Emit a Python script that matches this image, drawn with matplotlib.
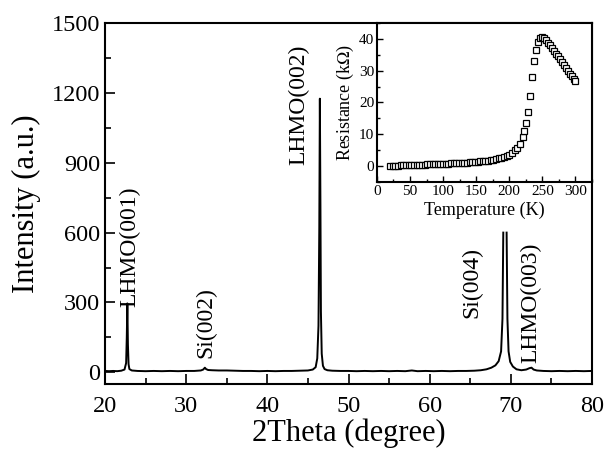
import numpy as np
import matplotlib
matplotlib.use('Agg')
import matplotlib.pyplot as plt
from matplotlib.ticker import MultipleLocator

plt.rcParams['font.family'] = ['Liberation Serif', 'DejaVu Serif']
plt.rcParams['mathtext.fontset'] = 'stix'

# --- XRD pattern ---
nan = float('nan')
two_theta = [20.0, 20.5, 21.0, 21.5, 22.0, 22.4, 22.6, 22.68, 22.75, 22.82, 22.9, 23.0, 23.3,
             24.0, 25.0, 26.0, 27.0, 28.0, 29.0, 30.0, 31.0, 31.8, 32.1, 32.3, 32.45, 32.7,
             33.2, 34.0, 35.0, 36.0, 37.0, 38.0, 39.0, 40.0, 41.0, 42.0, 43.0, 44.0, 45.0,
             45.6, 45.95, 46.15, 46.3, 46.4, 46.47, 46.54, 46.6, 46.7, 46.85, 47.05, 47.4,
             48.0, 49.0, 50.0, 51.0, 52.0, 53.0, 54.0, 55.0, 56.0, 57.0, 57.8, 58.5, 59.5,
             60.5, 61.5, 62.5, 63.5, 64.5, 65.5, 66.3, 67.0, 67.6, 68.1, 68.5, 68.8, 68.97,
             69.07, nan, 69.48, 69.58, 69.72, 69.92, 70.25, 70.7, 71.3, 71.9, 72.3, 72.55,
             72.8, 73.2, 74.0, 75.0, 76.0, 77.0, 78.0, 79.0, 80.0]
intensity = [6, 5, 6, 5, 7, 12, 40, 150, 296, 120, 35, 14, 8,
             6, 5, 6, 5, 6, 5, 6, 6, 8, 12, 20, 14, 10,
             9, 8, 8, 7, 6, 6, 5, 6, 5, 6, 6, 7, 8,
             12, 22, 60, 200, 620, 1175, 720, 260, 80, 28, 14, 9,
             7, 6, 6, 5, 6, 5, 6, 5, 6, 5, 8, 5, 6,
             5, 6, 5, 6, 6, 7, 9, 13, 20, 30, 48, 90, 230,
             600, nan, 600, 230, 90, 45, 25, 13, 9, 12, 18, 20,
             12, 8, 6, 5, 6, 5, 6, 5, 6]

# --- R(T) inset data ---
temperature = [20, 24, 28, 32, 36, 40, 44, 48, 52, 56, 60, 64, 68, 72, 76, 80, 84, 88,
               92, 96, 100, 104, 108, 112, 116, 120, 124, 128, 132, 136, 140, 144, 148,
               152, 156, 160, 164, 168, 172, 176, 180, 184, 188, 192, 196, 200, 204,
               208, 212, 216, 220, 223, 226, 229, 232, 235, 238, 241, 244, 247, 250,
               253, 256, 259, 262, 265, 268, 271, 274, 277, 280, 283, 286, 289, 292,
               295, 298, 300]
resistance = [0.1, 0.1, 0.15, 0.15, 0.2, 0.2, 0.25, 0.25, 0.3, 0.3, 0.35, 0.4, 0.4, 0.45,
              0.5, 0.5, 0.55, 0.6, 0.65, 0.7, 0.7, 0.75, 0.8, 0.85, 0.9, 0.9, 0.95, 1.0,
              1.05, 1.1, 1.15, 1.2, 1.3, 1.35, 1.45, 1.5, 1.6, 1.7, 1.85, 2.0, 2.2, 2.4,
              2.6, 2.9, 3.2, 3.6, 4.2, 4.9, 5.8, 7.0, 9.0, 11.0, 13.5, 17.0, 22.0, 28.0,
              33.0, 36.5, 39.0, 40.3, 40.5, 40.2, 39.6, 38.8, 38.0, 37.2, 36.3, 35.4,
              34.5, 33.6, 32.6, 31.7, 30.8, 30.0, 29.1, 28.2, 27.3, 26.8]

peak_labels = ['LHMO(001)', 'Si(002)', 'LHMO(002)', 'Si(004)', 'LHMO(003)']
label_x = [23.1, 32.4, 43.9, 65.2, 72.5]
label_y = [280, 60, 890, 232, 40]

fig = plt.figure(figsize=(6.05, 4.49), dpi=100)
ax = fig.add_axes([0.1736, 0.1448, 0.8049, 0.804])
ax.plot(two_theta, intensity, color='black', lw=1.4)
ax.set_xlim(20, 80)
ax.set_ylim(-50, 1500)
ax.xaxis.set_major_locator(MultipleLocator(10))
ax.xaxis.set_minor_locator(MultipleLocator(5))
ax.yaxis.set_major_locator(MultipleLocator(300))
ax.yaxis.set_minor_locator(MultipleLocator(150))
ax.tick_params(which='both', direction='in', labelsize=17.5, width=1.2)
ax.tick_params(which='major', length=7)
ax.tick_params(which='minor', length=4)
ax.tick_params(axis='x', pad=9)
for s in ax.spines.values():
    s.set_linewidth(1.5)
ax.set_xlabel('2Theta (degree)', fontsize=22, labelpad=1)
ax.set_ylabel('Intensity (a.u.)', fontsize=22, labelpad=8)

for txt, x, y in zip(peak_labels, label_x, label_y):
    ax.text(x, y, txt, rotation=90, ha='center', va='bottom', fontsize=17)

# inset
axi = fig.add_axes([0.623, 0.5947, 0.3555, 0.3541])
axi.plot(temperature, resistance, ls='none', marker='s', markersize=4.6,
         markerfacecolor='white', markeredgecolor='black', markeredgewidth=0.9)
axi.set_xlim(0, 325)
axi.set_ylim(-5, 45)
axi.xaxis.set_major_locator(MultipleLocator(50))
axi.xaxis.set_minor_locator(MultipleLocator(25))
axi.yaxis.set_major_locator(MultipleLocator(10))
axi.yaxis.set_minor_locator(MultipleLocator(5))
axi.tick_params(which='both', direction='in', labelsize=11, width=1.0)
axi.tick_params(which='major', length=4)
axi.tick_params(which='minor', length=2.5)
axi.tick_params(pad=2)
for s in axi.spines.values():
    s.set_linewidth(1.5)
axi.set_xlabel('Temperature (K)', fontsize=13, labelpad=3)
axi.set_ylabel('Resistance (k$\\Omega$)', fontsize=13, labelpad=2)

fig.savefig('out.png', dpi=100)
